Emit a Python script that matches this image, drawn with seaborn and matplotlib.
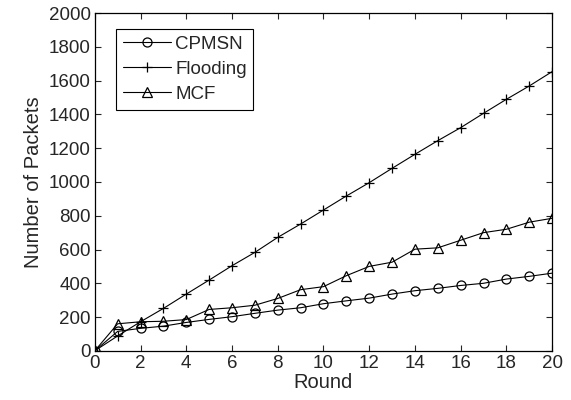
import numpy as np
import pandas as pd
import seaborn as sns
import matplotlib.pyplot as plt

rounds = list(range(21))
cpmsn = [0, 115, 133, 146, 168, 186, 202, 222, 241, 255, 279, 296, 312, 336, 356, 370, 387, 400, 425, 441, 460]
flooding = [0, 88, 172, 251, 336, 419, 504, 583, 672, 751, 834, 917, 996, 1081, 1164, 1245, 1322, 1407, 1490, 1569, 1654]
mcf = [0, 160, 172, 175, 185, 245, 255, 270, 310, 362, 380, 445, 500, 525, 602, 610, 655, 700, 720, 762, 785]

sns.set_style('ticks')
plt.rcParams['font.family'] = ['Liberation Sans', 'DejaVu Sans']

fig = plt.figure(figsize=(5.71, 4.0), dpi=100)
ax = fig.add_axes([0.166, 0.123, 0.801, 0.844])

series = [("CPMSN", cpmsn, "o"), ("Flooding", flooding, "+"), ("MCF", mcf, "^")]
for name, vals, mk in series:
    sns.lineplot(x=rounds, y=vals, ax=ax, color='black', linewidth=0.8,
                 marker=mk, markersize=6.5, markerfacecolor='none',
                 markeredgecolor='black', markeredgewidth=0.9, label=name)

ax.set_xlim(0, 20)
ax.set_ylim(0, 2000)
ax.set_xticks(range(0, 21, 2))
ax.set_yticks(range(0, 2001, 200))
ax.tick_params(direction='in', top=True, right=True, labelsize=13.5, length=4, width=0.8, pad=3)
for sp in ax.spines.values():
    sp.set_visible(True)
    sp.set_linewidth(0.9)
    sp.set_color('black')
ax.set_xlabel("Round", fontsize=14.5, labelpad=1)
ax.set_ylabel("Number of Packets", fontsize=14.5, labelpad=4)

leg = ax.legend(loc='upper left', bbox_to_anchor=(0.026, 0.98), fontsize=13.5,
                frameon=True, fancybox=False, edgecolor='black', framealpha=1,
                handlelength=2.6, borderpad=0.35, labelspacing=0.42, handletextpad=0.2)
leg.get_frame().set_linewidth(0.8)

fig.savefig("out.png", dpi=100)
